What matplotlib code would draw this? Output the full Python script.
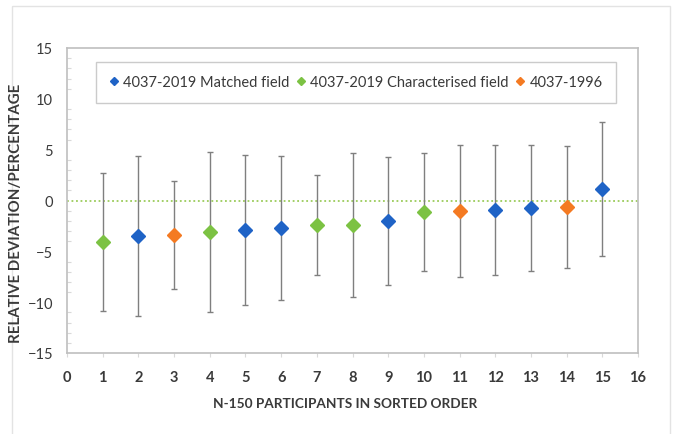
import matplotlib.pyplot as plt
from matplotlib.patches import Rectangle
from matplotlib.ticker import MultipleLocator


# participant rank, relative deviation (%) and its uncertainty (%)
rank = list(range(1, 16))
deviation = [-4.1, -3.5, -3.4, -3.1, -2.9, -2.7, -2.4, -2.4, -2.0, -1.1, -1.0, -0.9, -0.7, -0.6, 1.1]
uncertainty = [6.8, 7.9, 5.3, 7.9, 7.4, 7.1, 4.9, 7.1, 6.3, 5.8, 6.5, 6.4, 6.2, 6.0, 6.6]
method = ["C", "M", "O", "C", "M", "M", "C", "C", "M", "C", "O", "M", "M", "O", "M"]

series_names = {
    "M": "4037-2019 Matched field",
    "C": "4037-2019 Characterised field",
    "O": "4037-1996",
}
series_colors = {"M": "#1F63C6", "C": "#7CC243", "O": "#F47A22"}

plt.rcParams["font.family"] = ["Lato", "DejaVu Sans"]

GRID = "#BFBFBF"
TEXT = "#3A3A3A"

fig = plt.figure(figsize=(6.76, 4.35), dpi=100, facecolor="white")

# faint outer frame of the chart object
frame = fig.add_axes([0, 0, 1, 1])
frame.set_axis_off()
frame.set_xlim(0, 676)
frame.set_ylim(435, 0)
frame.add_patch(Rectangle((12, 7), 658, 440, fill=False, ec="#E3E3E3", lw=1.0))

ax = fig.add_axes([67 / 676, 81 / 435, 571 / 676, 305 / 435])

ax.axhline(0, color="#9BCB5A", lw=1.3, ls=(0, (1, 1.5)), zorder=1)

ax.errorbar(rank, deviation, yerr=uncertainty, fmt="none", ecolor="#7F7F7F",
            elinewidth=1.0, capsize=2, capthick=1.0, zorder=2)

for key in ["M", "C", "O"]:
    xs = [r for r, m in zip(rank, method) if m == key]
    ys = [d for d, m in zip(deviation, method) if m == key]
    ax.plot(xs, ys, ls="none", marker="D", ms=7.2, color=series_colors[key],
            label=series_names[key], zorder=3)

ax.set_xlim(0, 16)
ax.set_ylim(-15, 15)
ax.xaxis.set_major_locator(MultipleLocator(1))
ax.yaxis.set_major_locator(MultipleLocator(5))
ax.yaxis.set_minor_locator(MultipleLocator(1))

for side in ax.spines.values():
    side.set_color(GRID)
    side.set_linewidth(1.2)

ax.tick_params(axis="x", which="major", direction="out", length=3, width=0.8,
               color="#D9D9D9", labelsize=10.5, pad=9, labelcolor=TEXT)
ax.tick_params(axis="y", which="major", direction="in", length=0, labelsize=10.5,
               pad=10, labelcolor=TEXT)
ax.tick_params(axis="y", which="minor", direction="in", length=3, width=0.8,
               color="#D9D9D9")
for lbl in ax.get_xticklabels():
    lbl.set_fontweight("bold")

ax.set_xlabel("N-150 PARTICIPANTS IN SORTED ORDER", fontsize=9.8,
              fontweight="bold", color=TEXT)
ax.set_ylabel("RELATIVE DEVIATION/PERCENTAGE", fontsize=10.8,
              fontweight="bold", color=TEXT)
ax.xaxis.set_label_coords(0.487, -0.145)
ax.yaxis.set_label_coords(-0.077, 0.46)

leg = ax.legend(loc="center", bbox_to_anchor=(22 / 571, 1 - 55 / 305, 534 / 571, 41 / 305),
                mode="expand", ncol=3, frameon=True, fancybox=False, fontsize=10.5,
                markerscale=0.6, handlelength=0.6, handletextpad=0.35,
                columnspacing=1.2, borderpad=0.9)
leg.get_frame().set_edgecolor("#BFBFBF")
leg.get_frame().set_linewidth(1.0)
for t in leg.get_texts():
    t.set_color(TEXT)

fig.savefig("out.png", dpi=100, facecolor="white")
